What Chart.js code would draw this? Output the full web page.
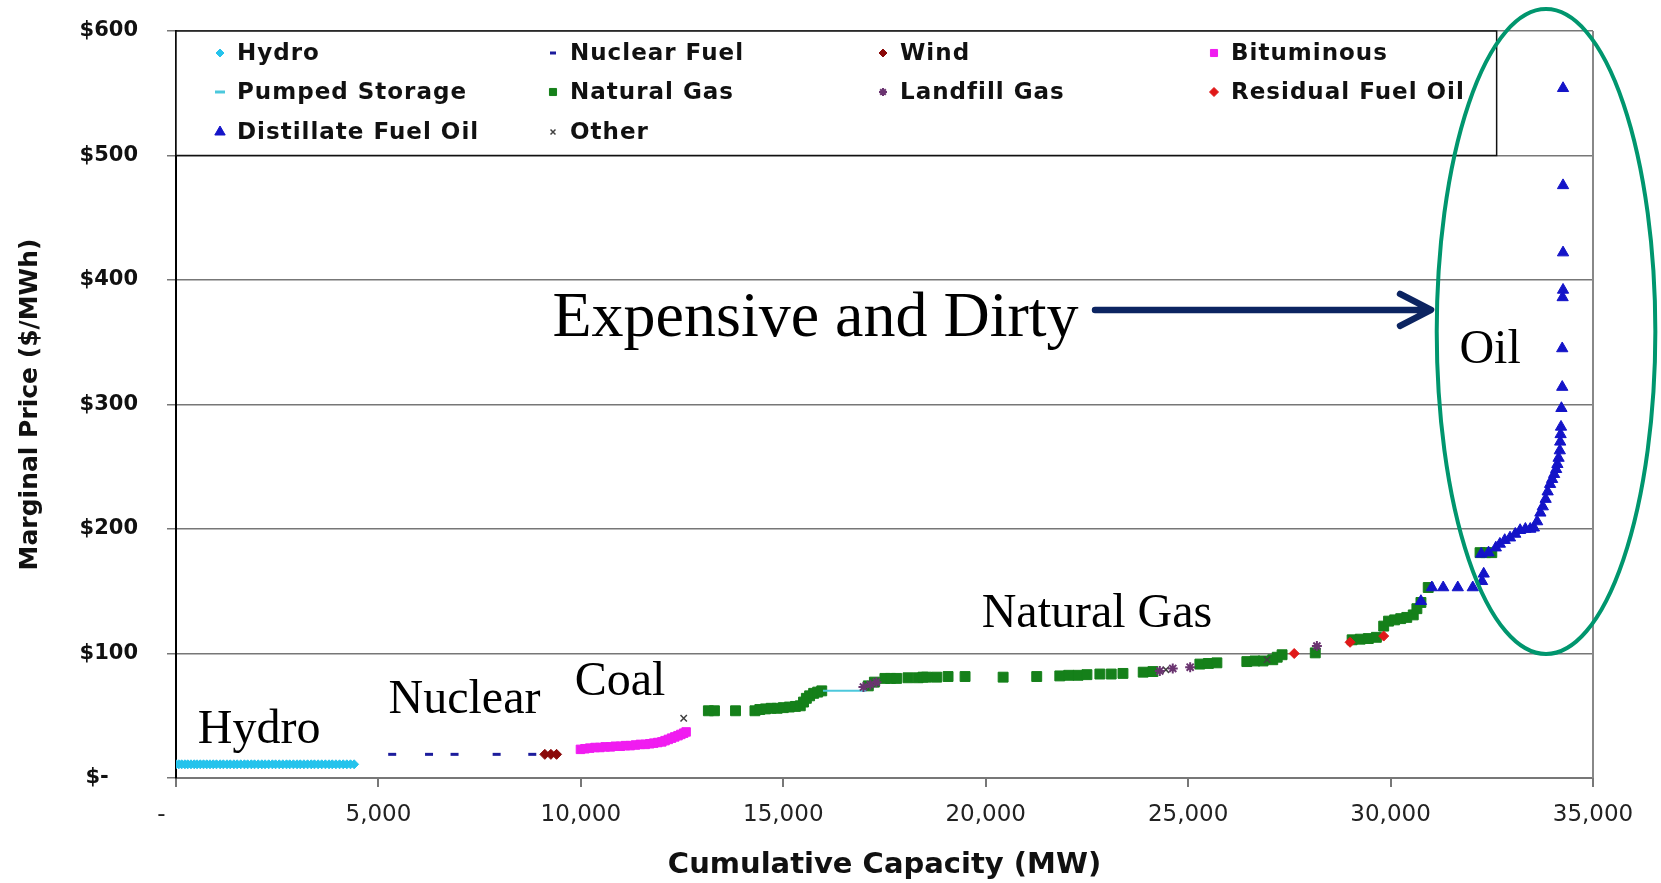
<!DOCTYPE html>
<html>
<head>
<meta charset="utf-8">
<title>Marginal Price vs Cumulative Capacity</title>
<script src="https://cdn.jsdelivr.net/npm/chart.js@4.4.1/dist/chart.umd.min.js"></script>
<style>
  html, body { margin: 0; padding: 0; background: #fff; }
  #wrap { width: 1661px; height: 883px; }
</style>
</head>
<body>
<div id="wrap"><canvas id="grafico" width="1661" height="883"></canvas></div>
<script>
// valores: capacidad acumulada (MW) y precio marginal ($/MWh)
const hydroMW = [0, 70, 140, 220, 290, 370, 450, 520, 600, 680, 760, 840, 920, 1000, 1090, 1170, 1260, 1340, 1430, 1510, 1600, 1690, 1770, 1860, 1940, 2030, 2120, 2200, 2290, 2380, 2460, 2550, 2640, 2730, 2810, 2900, 2990, 3070, 3160, 3250, 3340, 3420, 3510, 3600, 3690, 3780, 3860, 3950, 4040, 4130, 4220, 4310, 4400];
const hydroPrice = [11, 11, 11, 11, 11, 11, 11, 11, 11, 11, 11, 11, 11, 11, 11, 11, 11, 11, 11, 11, 11, 11, 11, 11, 11, 11, 11, 11, 11, 11, 11, 11, 11, 11, 11, 11, 11, 11, 11, 11, 11, 11, 11, 11, 11, 11, 11, 11, 11, 11, 11, 11, 11];

const nuclearMW = [5340, 6250, 6880, 7920, 8800];
const nuclearPrice = [19, 19, 19, 19, 19];

const windMW = [9110, 9260, 9400];
const windPrice = [19, 19, 19];

const bitumMW = [9990, 10100, 10220, 10350, 10470, 10600, 10730, 10850, 10980, 11100, 11220, 11350, 11470, 11590, 11700, 11800, 11900, 12000, 12080, 12160, 12240, 12320, 12400, 12470, 12540, 12600];
const bitumPrice = [23, 23.5, 24, 24.5, 24.5, 25, 25, 25.5, 25.5, 26, 26, 26.5, 27, 27, 27.5, 28, 28.5, 29, 30, 31, 32, 33, 34, 35, 36, 37];

const pumpedMW = [15980, 17050];
const pumpedPrice = [70, 70];

const gasMW = [13150, 13300, 13820, 14300, 14420, 14560, 14700, 14850, 15000, 15150, 15300, 15420, 15500, 15570, 15650, 15750, 15850, 15950, 17100, 17250, 17510, 17650, 17800, 18080, 18330, 18450, 18540, 18790, 19070, 19490, 20430, 21260, 21830, 22050, 22280, 22500, 22820, 23100, 23390, 23890, 24130, 25290, 25500, 25710, 26450, 26650, 26850, 27090, 27200, 27320, 28140, 29050, 29250, 29450, 29650, 29830, 29950, 30100, 30250, 30400, 30560, 30650, 30750, 30930, 32210, 32350, 32500];
const gasPrice = [54, 54, 54, 54, 55, 55.5, 56, 56, 56.5, 57, 57.5, 58, 61, 64, 66, 68, 69, 70, 74, 77, 80, 80, 80, 80.5, 80.5, 81, 81, 81, 81.5, 81.5, 81, 81.5, 82, 82.5, 82.5, 83, 83.5, 83.5, 84, 85, 85.5, 91.5, 92, 92.5, 93.5, 94, 94, 95, 97, 99, 100.5, 111, 111.5, 112, 113, 122, 126, 127, 128, 129, 131, 136, 141, 153, 181, 181, 181];

const landfillMW = [16980, 17150, 17300, 24300, 24620, 25050, 28180];
const landfillPrice = [73, 75, 77, 86, 88, 89, 106];

const residualMW = [27620, 29000, 29830];
const residualPrice = [100, 109, 114];

const distMW = [30750, 31020, 31300, 31660, 32030, 32260, 32300, 32240, 32420, 32600, 32700, 32820, 32950, 33080, 33200, 33330, 33450, 33540, 33620, 33700, 33760, 33830, 33880, 33940, 33990, 34040, 34090, 34120, 34150, 34180, 34190, 34200, 34210, 34220, 34240, 34240, 34250, 34260, 34260, 34260, 34260];
const distPrice = [142, 153, 153, 153, 153, 158, 164, 180, 181, 185, 188, 191, 193, 196, 199, 200, 200, 201, 206, 213, 218, 224, 230, 236, 240, 244, 248, 252, 257, 263, 270, 276, 282, 297, 314, 345, 386, 392, 422, 476, 554];

const otherMW = [12540, 24450, 26950];
const otherPrice = [48, 87, 95];

// etiquetas de los ejes
const xTickLabels = ['-    ', '5,000', '10,000', '15,000', '20,000', '25,000', '30,000', '35,000'];
const yTickLabels = ['$-    ', '$100', '$200', '$300', '$400', '$500', '$600'];

const pts = (xs, ys) => xs.map((x, i) => ({ x, y: ys[i] }));

// orden = orden de la leyenda (4 columnas)
const series = [
  { label: 'Hydro', data: pts(hydroMW, hydroPrice), color: '#25c3ec', style: 'rectRot', r: 4.5, lr: 4 },
  { label: 'Nuclear Fuel', data: pts(nuclearMW, nuclearPrice), color: '#1c1c9c', style: 'line', r: 4, lr: 3, bw: 3 },
  { label: 'Wind', data: pts(windMW, windPrice), color: '#8b0a0a', style: 'rectRot', r: 5, lr: 4 },
  { label: 'Bituminous', data: pts(bitumMW, bitumPrice), color: '#f01cf0', style: 'rect', r: 6, lr: 5 },
  { label: 'Pumped Storage', data: pts(pumpedMW, pumpedPrice), color: '#4cc8dc', style: 'line', r: 0, lr: 5, bw: 3, line: true },
  { label: 'Natural Gas', data: pts(gasMW, gasPrice), color: '#15801a', style: 'rect', r: 7, lr: 5, order: 2 },
  { label: 'Landfill Gas', data: pts(landfillMW, landfillPrice), color: '#6a3470', style: 'star', r: 5, lr: 4, bw: 2, order: 0 },
  { label: 'Residual Fuel Oil', data: pts(residualMW, residualPrice), color: '#e01818', style: 'rectRot', r: 5, lr: 4.5, order: 0 },
  { label: 'Distillate Fuel Oil', data: pts(distMW, distPrice), color: '#1414c8', style: 'triangle', r: 6.5, lr: 6 },
  { label: 'Other', data: pts(otherMW, otherPrice), color: '#404040', style: 'crossRot', r: 4.5, lr: 3.5, bw: 1.5, order: 0 }
];

// textos sobre el gráfico, en coordenadas de datos
const notas = [
  { text: 'Hydro', mw: 540, price: 28, size: 48 },
  { text: 'Nuclear', mw: 5250, price: 52, size: 48 },
  { text: 'Coal', mw: 9850, price: 67, size: 48 },
  { text: 'Natural Gas', mw: 19900, price: 121, size: 48 },
  { text: 'Oil', mw: 31700, price: 333, size: 48 },
  { text: 'Expensive and Dirty', mw: 9300, price: 355, size: 64 }
];

const ctx = document.getElementById('grafico').getContext('2d');

// leyenda en rejilla de 4 columnas dentro de una caja
const cajaLeyenda = {
  id: 'cajaLeyenda',
  beforeDatasetsDraw(chart) {
    const { ctx, chartArea: a, scales: { y } } = chart;
    const left = a.left, top = a.top;
    const w = a.width * 0.932, h = y.getPixelForValue(500) - top;
    const cols = [44, 377, 707, 1038];
    const rows = [22, 61, 101];
    ctx.save();
    // borde derecho del área
    ctx.strokeStyle = '#888';
    ctx.lineWidth = 2;
    ctx.beginPath();
    ctx.moveTo(a.right, a.top);
    ctx.lineTo(a.right, a.bottom);
    ctx.stroke();

    ctx.fillStyle = '#fff';
    ctx.fillRect(left, top, w, h);
    ctx.strokeStyle = '#111';
    ctx.lineWidth = 1.5;
    ctx.strokeRect(left, top, w, h);

    ctx.font = 'bold 23px "DejaVu Sans"';
    ctx.textBaseline = 'middle';
    ctx.textAlign = 'left';
    if ('letterSpacing' in ctx) ctx.letterSpacing = '1px';
    series.forEach((s, i) => {
      const cx = left + cols[i % 4];
      const cy = top + rows[Math.floor(i / 4)];
      ctx.fillStyle = s.color;
      ctx.strokeStyle = s.color;
      ctx.lineWidth = s.bw || 1;
      Chart.helpers.drawPoint(ctx, { pointStyle: s.style, radius: s.lr, rotation: 0, borderWidth: s.bw || 1 }, cx, cy);
      ctx.fillStyle = '#111';
      ctx.fillText(s.label, cx + 17, cy + 1);
    });
    ctx.restore();
  }
};

// anotaciones: textos, flecha y elipse
const anotaciones = {
  id: 'anotaciones',
  afterDraw(chart) {
    const { ctx, scales: { x, y } } = chart;
    ctx.save();
    ctx.fillStyle = '#000';
    ctx.textAlign = 'left';
    ctx.textBaseline = 'alphabetic';
    notas.forEach(n => {
      ctx.font = n.size + 'px "Liberation Serif", "Times New Roman", serif';
      ctx.fillText(n.text, x.getPixelForValue(n.mw), y.getPixelForValue(n.price));
    });

    // flecha
    const ax0 = x.getPixelForValue(22700), ax1 = x.getPixelForValue(31000);
    const ay = y.getPixelForValue(376);
    ctx.strokeStyle = '#0c2461';
    ctx.lineWidth = 6.5;
    ctx.lineCap = 'round';
    ctx.lineJoin = 'round';
    ctx.beginPath();
    ctx.moveTo(ax0, ay);
    ctx.lineTo(ax1 - 3, ay);
    ctx.moveTo(ax1 - 31, ay - 16);
    ctx.lineTo(ax1, ay);
    ctx.lineTo(ax1 - 31, ay + 16);
    ctx.stroke();

    // elipse
    const ex = x.getPixelForValue(33840), ey = y.getPixelForValue(358.6);
    const rx = x.getPixelForValue(33840 + 2700) - ex;
    const ry = ey - y.getPixelForValue(358.6 + 259);
    ctx.strokeStyle = '#00966e';
    ctx.lineWidth = 4;
    ctx.beginPath();
    ctx.ellipse(ex, ey, rx, ry, 0, 0, Math.PI * 2);
    ctx.stroke();
    ctx.restore();
  }
};

const chart = new Chart(ctx, {
  type: 'scatter',
  data: {
    datasets: series.map(s => ({
      label: s.label,
      data: s.data,
      showLine: !!s.line,
      borderColor: s.color,
      backgroundColor: s.color,
      borderWidth: s.line ? 2 : 1,
      pointStyle: s.style,
      pointRadius: s.r,
      pointBorderWidth: s.bw || 1,
      pointBackgroundColor: s.color,
      pointBorderColor: s.color,
      order: s.order === undefined ? 1 : s.order
    }))
  },
  options: {
    responsive: false,
    animation: false,
    devicePixelRatio: 1,
    layout: { padding: { left: 0, top: 31, right: 68, bottom: 0 } },
    plugins: {
      legend: { display: false },
      tooltip: { enabled: false }
    },
    scales: {
      x: {
        type: 'linear',
        min: 0,
        max: 35000,
        ticks: {
          stepSize: 5000,
          padding: 14,
          color: '#222',
          maxRotation: 0,
          autoSkip: false,
          font: { family: 'DejaVu Sans', size: 23 },
          callback: (v, i) => xTickLabels[i]
        },
        grid: { drawOnChartArea: false, drawTicks: true, tickLength: 9, color: '#777', lineWidth: 2 },
        border: { color: '#777', width: 2 },
        title: {
          display: true,
          text: 'Cumulative Capacity (MW)',
          color: '#111',
          font: { family: 'DejaVu Sans', size: 29, weight: 'bold' },
          padding: { top: 0, bottom: 0 }
        },
        afterFit: s => { s.height = 105; }
      },
      y: {
        min: 0,
        max: 600,
        ticks: {
          stepSize: 100,
          padding: 29,
          color: '#111',
          font: { family: 'DejaVu Sans', size: 21, weight: 'bold' },
          callback: (v, i) => yTickLabels[i]
        },
        grid: { color: '#777', lineWidth: 1.5, tickLength: 9 },
        border: { color: '#000', width: 2 },
        title: {
          display: true,
          text: 'Marginal Price ($/MWh)',
          color: '#111',
          font: { family: 'DejaVu Sans', size: 25, weight: 'bold' },
          padding: { top: 15, bottom: 0 }
        },
        afterFit: s => {
          s.width = 176;
          // el padding de las etiquetas no debe empujar el área hacia abajo
          s.paddingTop = 8;
          s.paddingBottom = 8;
        }
      }
    }
  },
  plugins: [cajaLeyenda, anotaciones]
});
</script>
</body>
</html>
